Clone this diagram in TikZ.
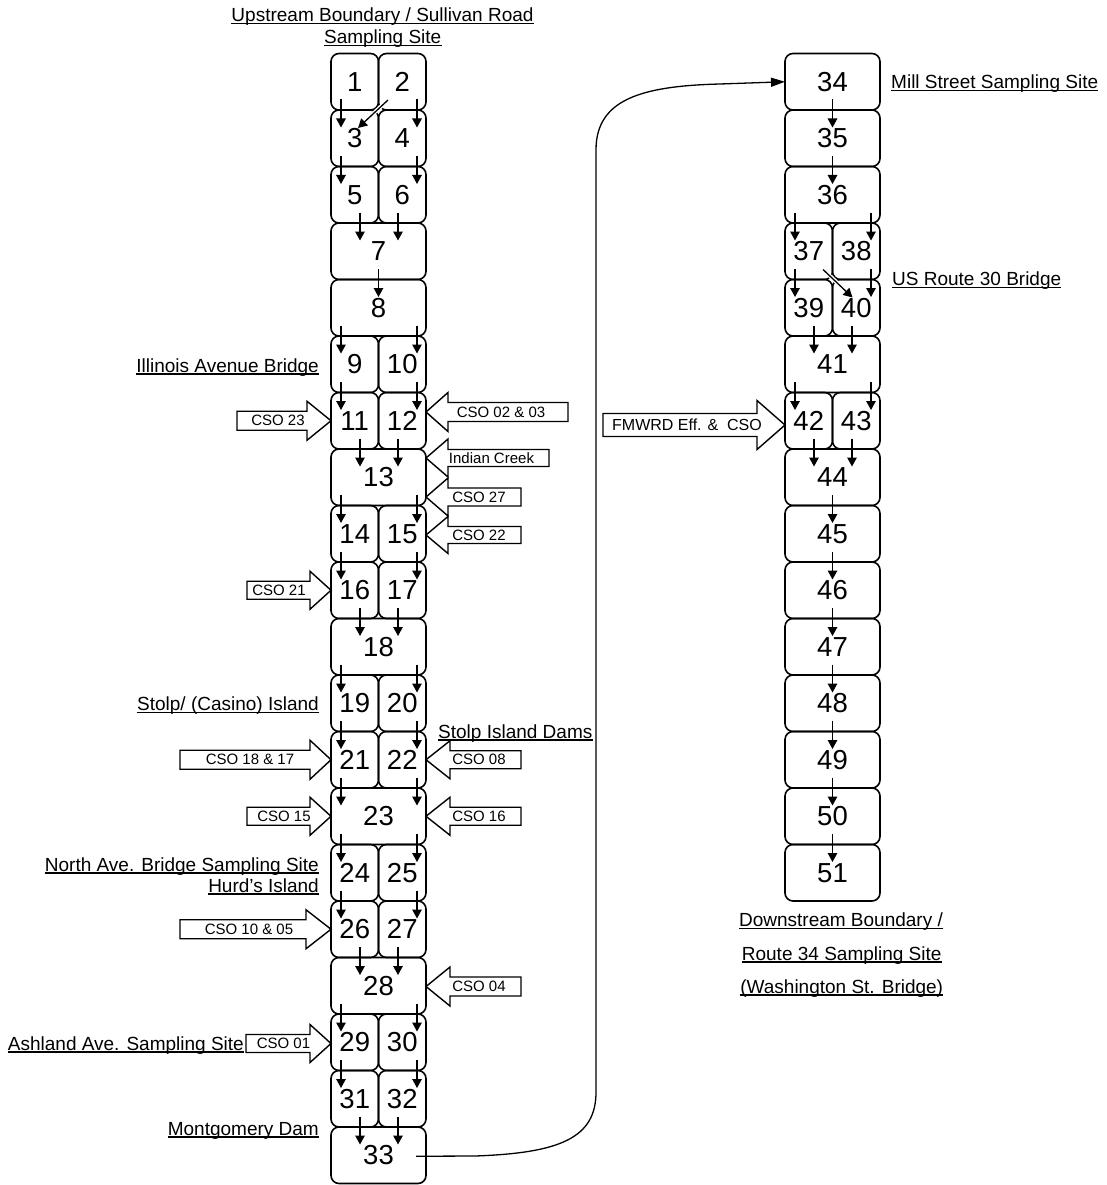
\documentclass[tikz,border=0pt]{standalone}
\usepackage{fontspec}
\setmainfont{Liberation Sans}
\usetikzlibrary{arrows.meta,calc}

\newcommand\fl[4]{\draw[flow] ($(#1.south west)+(#3,-10.5)$) -- ($(#2.north west)+(#4,17.5)$);}
\newcommand\barr[9]{%
  \draw[blk] (#2,#5-#6) -- (#3,#5-#6) -- (#3,#5-#7) -- (#4,#5) -- (#3,#5+#7) -- (#3,#5+#6) -- (#2,#5+#6) -- cycle;
  \node[csotext] (#1) at (#8,#5) {#9};}
\newcommand\ulab[4]{%
  \node[lbl,anchor=#1] (#2) at (#3) {#4};
  \draw[ulline] ([yshift=-2pt]#2.base west) -- ([yshift=-2pt]#2.base east);}

\begin{document}
\begin{tikzpicture}[x=1pt,y=-1pt,
  cell/.style={draw, line width=1.6pt, rounded corners=8pt, inner sep=0pt, outer sep=0pt,
    minimum height=56.5pt, font=\fontsize{27.5}{27.5}\selectfont},
  half/.style={cell, minimum width=47.5pt},
  full/.style={cell, minimum width=95pt},
  flow/.style={line width=1.3pt, -{Triangle[length=9pt,width=9.5pt]}},
  conn/.style={line width=1.3pt, -{Triangle[length=14pt,width=9pt]}},
  blk/.style={draw, fill=white, line width=1.4pt, line join=miter},
  csotext/.style={font=\fontsize{15}{15}\selectfont, inner sep=0pt},
  lbl/.style={font=\fontsize{19}{19}\selectfont, inner sep=0pt},
  ulline/.style={line width=1.2pt}]

\path[fill=white,use as bounding box] (0,0) rectangle (1106,1185);

% ---- left column
\node[half] (c1) at (354.75,81.75) {1};
\node[half] (c2) at (402.25,81.75) {2};
\node[half] (c3) at (354.75,138.25) {3};
\node[half] (c4) at (402.25,138.25) {4};
\node[half] (c5) at (354.75,194.75) {5};
\node[half] (c6) at (402.25,194.75) {6};
\node[full] (c7) at (378.5,251.25) {7};
\node[full] (c8) at (378.5,307.75) {8};
\node[half] (c9) at (354.75,364.25) {9};
\node[half] (c10) at (402.25,364.25) {10};
\node[half] (c11) at (354.75,420.75) {11};
\node[half] (c12) at (402.25,420.75) {12};
\node[full] (c13) at (378.5,477.25) {13};
\node[half] (c14) at (354.75,533.75) {14};
\node[half] (c15) at (402.25,533.75) {15};
\node[half] (c16) at (354.75,590.25) {16};
\node[half] (c17) at (402.25,590.25) {17};
\node[full] (c18) at (378.5,646.75) {18};
\node[half] (c19) at (354.75,703.25) {19};
\node[half] (c20) at (402.25,703.25) {20};
\node[half] (c21) at (354.75,759.75) {21};
\node[half] (c22) at (402.25,759.75) {22};
\node[full] (c23) at (378.5,816.25) {23};
\node[half] (c24) at (354.75,872.75) {24};
\node[half] (c25) at (402.25,872.75) {25};
\node[half] (c26) at (354.75,929.25) {26};
\node[half] (c27) at (402.25,929.25) {27};
\node[full] (c28) at (378.5,985.75) {28};
\node[half] (c29) at (354.75,1042.25) {29};
\node[half] (c30) at (402.25,1042.25) {30};
\node[half] (c31) at (354.75,1098.75) {31};
\node[half] (c32) at (402.25,1098.75) {32};
\node[full] (c33) at (378.5,1155.25) {33};

% ---- right column
\node[full] (c34) at (832.5,81.75) {34};
\node[full] (c35) at (832.5,138.25) {35};
\node[full] (c36) at (832.5,194.75) {36};
\node[half] (c37) at (808.75,251.25) {37};
\node[half] (c38) at (856.25,251.25) {38};
\node[half] (c39) at (808.75,307.75) {39};
\node[half] (c40) at (856.25,307.75) {40};
\node[full] (c41) at (832.5,364.25) {41};
\node[half] (c42) at (808.75,420.75) {42};
\node[half] (c43) at (856.25,420.75) {43};
\node[full] (c44) at (832.5,477.25) {44};
\node[full] (c45) at (832.5,533.75) {45};
\node[full] (c46) at (832.5,590.25) {46};
\node[full] (c47) at (832.5,646.75) {47};
\node[full] (c48) at (832.5,703.25) {48};
\node[full] (c49) at (832.5,759.75) {49};
\node[full] (c50) at (832.5,816.25) {50};
\node[full] (c51) at (832.5,872.75) {51};

% ---- flow arrows, left column
\fl{c1}{c3}{10}{10}
\fl{c2}{c4}{38.5}{38.5}
\coordinate (d2a) at ($(c2.south west)+(9.5,-10)$);
\coordinate (d2b) at ($(c3.north west)+(27,18)$);
\draw[white,line width=4pt] ($(d2a)!0.2!(d2b)$) -- ($(d2a)!0.5!(d2b)$);
\draw[flow] (d2a) -- (d2b);
\fl{c3}{c5}{10}{10}
\fl{c4}{c6}{38.5}{38.5}
\fl{c5}{c7}{29}{29}
\fl{c6}{c7}{19.5}{67}
\fl{c7}{c8}{47.5}{47.5}
\fl{c8}{c9}{10}{10}
\fl{c8}{c10}{86}{38.5}
\fl{c9}{c11}{10}{10}
\fl{c10}{c12}{38.5}{38.5}
\fl{c11}{c13}{29}{29}
\fl{c12}{c13}{19.5}{67}
\fl{c13}{c14}{10}{10}
\fl{c13}{c15}{86}{38.5}
\fl{c14}{c16}{10}{10}
\fl{c15}{c17}{38.5}{38.5}
\fl{c16}{c18}{29}{29}
\fl{c17}{c18}{19.5}{67}
\fl{c18}{c19}{10}{10}
\fl{c18}{c20}{86}{38.5}
\fl{c19}{c21}{10}{10}
\fl{c20}{c22}{38.5}{38.5}
\fl{c21}{c23}{10}{10}
\fl{c22}{c23}{38.5}{86}
\fl{c23}{c24}{10}{10}
\fl{c23}{c25}{86}{38.5}
\fl{c24}{c26}{10}{10}
\fl{c25}{c27}{38.5}{38.5}
\fl{c26}{c28}{29}{29}
\fl{c27}{c28}{19.5}{67}
\fl{c28}{c29}{10}{10}
\fl{c28}{c30}{86}{38.5}
\fl{c29}{c31}{10}{10}
\fl{c30}{c32}{38.5}{38.5}
\fl{c31}{c33}{29}{29}
\fl{c32}{c33}{19.5}{67}

% ---- flow arrows, right column
\fl{c34}{c35}{47.5}{47.5}
\fl{c35}{c36}{47.5}{47.5}
\fl{c36}{c37}{10}{10}
\fl{c36}{c38}{86}{38.5}
\fl{c37}{c39}{10}{10}
\fl{c38}{c40}{38.5}{38.5}
\coordinate (d37a) at ($(c37.south west)+(38,-10)$);
\coordinate (d37b) at ($(c40.north west)+(20,18)$);
\draw[white,line width=4pt] ($(d37a)!0.2!(d37b)$) -- ($(d37a)!0.5!(d37b)$);
\draw[flow] (d37a) -- (d37b);
\fl{c39}{c41}{29}{29}
\fl{c40}{c41}{19.5}{67}
\fl{c41}{c42}{10}{10}
\fl{c41}{c43}{86}{38.5}
\fl{c42}{c44}{29}{29}
\fl{c43}{c44}{19.5}{67}
\fl{c44}{c45}{47.5}{47.5}
\fl{c45}{c46}{47.5}{47.5}
\fl{c46}{c47}{47.5}{47.5}
\fl{c47}{c48}{47.5}{47.5}
\fl{c48}{c49}{47.5}{47.5}
\fl{c49}{c50}{47.5}{47.5}
\fl{c50}{c51}{47.5}{47.5}

% ---- long connector 33 -> 34
\draw[conn] ($(c33.east)+(-10,1)$) -- (475,1156)
  .. controls (560,1153) and (596,1138) .. (596,1092) -- (596,150)
  .. controls (596,100) and (640,86) .. (720,84) -- (c34.west);

% ---- inflow block arrows
\barr{a23}{237}{307}{331}{420.75}{9.5}{19.5}{278}{CSO 23}
\barr{a0203}{568}{448}{426}{412}{9.5}{19.5}{501}{CSO 02 \& 03}
\barr{aic}{549}{448}{426}{458}{8.5}{19}{491.5}{Indian Creek}
\barr{a27}{521}{448}{426}{497}{9}{19}{479}{CSO 27}
\barr{a22}{521}{448}{426}{535}{8.5}{18.5}{479}{CSO 22}
\barr{a21}{247}{310}{331}{590.25}{9}{19}{279}{CSO 21}
\barr{a1817}{180}{310}{331}{759.75}{9.5}{19.5}{250}{CSO 18 \& 17}
\barr{a08}{521}{450}{426}{759.75}{9}{19}{479}{CSO 08}
\barr{a15}{247}{310}{331}{816.25}{9}{19}{284}{CSO 15}
\barr{a16}{521}{450}{426}{816.25}{9}{19}{479}{CSO 16}
\barr{a1005}{180}{306}{331}{929.25}{9.5}{19.5}{249}{CSO 10 \& 05}
\barr{a04}{521}{450}{426}{986.5}{9.5}{19.5}{479}{CSO 04}
\barr{a01}{246}{310}{331}{1043.5}{9}{19}{283.5}{CSO 01}
\barr{afm}{603}{757}{785}{425}{11.5}{24.5}{687}{\fontsize{16}{16}\selectfont FMWRD Eff. \& \ CSO}

% ---- labels
\ulab{base}{lup1}{382.5,21.5}{Upstream Boundary / Sullivan Road}
\ulab{base}{lup2}{382.7,43.3}{Sampling Site}
\ulab{base east}{lill}{319,372}{Illinois Avenue Bridge}
\ulab{base east}{lcas}{319,710.7}{Stolp/ (Casino) Island}
\ulab{base west}{ldam}{438,738}{Stolp Island Dams}
\ulab{base east}{lnorth}{319,871}{North Ave. Bridge Sampling Site}
\ulab{base east}{lhurd}{319,892}{Hurd's Island}
\ulab{base east}{lash}{244,1050}{Ashland Ave. Sampling Site}
\ulab{base east}{lmont}{319,1135}{Montgomery Dam}
\ulab{base west}{lmill}{891,88.3}{Mill Street Sampling Site}
\ulab{base west}{lus}{892,285.7}{US Route 30 Bridge}
\ulab{base}{ldown1}{841,926.7}{Downstream Boundary /}
\ulab{base}{ldown2}{841.7,960}{Route 34 Sampling Site}
\ulab{base}{ldown3}{841.7,993}{(Washington St. Bridge)}
\end{tikzpicture}
\end{document}
